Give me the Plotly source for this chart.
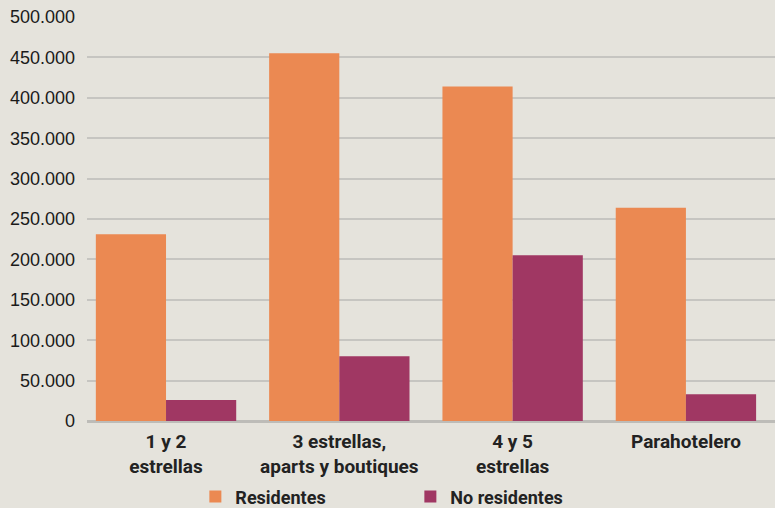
import plotly.graph_objects as go

categories = ["1 y 2<br>estrellas", "3 estrellas,<br>aparts y boutiques", "4 y 5<br>estrellas", "Parahotelero"]
residentes = [231000, 455000, 414000, 264000]
no_residentes = [26000, 80000, 205000, 33000]
y_ticks = [0, 50000, 100000, 150000, 200000, 250000, 300000, 350000, 400000, 450000, 500000]
y_labels = ["0", "50.000", "100.000", "150.000", "200.000", "250.000", "300.000", "350.000", "400.000", "450.000", "500.000"]

BG = "#e5e3dc"
COND = "Roboto, Liberation Sans, Arial, sans-serif"
fig = go.Figure()
fig.add_trace(go.Bar(x=categories, y=residentes, name="Residentes", marker=dict(color="#eb8952", line=dict(width=0))))
fig.add_trace(go.Bar(x=categories, y=no_residentes, name="No residentes", marker=dict(color="#a03763", line=dict(width=0))))

W, H = 775, 508
ml, mr, mt, mb = 87, 0, 17, 87
fig.update_layout(
    width=W, height=H,
    margin=dict(l=ml, r=mr, t=mt, b=mb, pad=0, autoexpand=False),
    paper_bgcolor=BG, plot_bgcolor=BG,
    barmode="group", bargap=0.19, bargroupgap=0,
    showlegend=True,
    legend=dict(orientation="h", x=0.47, xanchor="center", yref="container", y=0.022, yanchor="middle",
                font=dict(family=COND, size=18, color="#222222", weight="bold"),
                entrywidth=170, bgcolor="rgba(0,0,0,0)", traceorder="normal"),
    xaxis=dict(range=[-0.456, 3.514], showgrid=False, zeroline=False, showline=False,
               ticks="", ticklabelstandoff=7, automargin=False,
               tickfont=dict(family=COND, size=19, color="#222222", weight="bold")),
    yaxis=dict(range=[0, 500000], tickvals=y_ticks, ticktext=y_labels,
               showgrid=True, gridcolor="#c6c5c1", gridwidth=2,
               zeroline=True, zerolinecolor="#bdbcb8", zerolinewidth=3,
               showline=False, ticks="", ticklabelstandoff=11, automargin=False,
               tickfont=dict(family="Liberation Sans, Arial, sans-serif", size=18, color="#1a1a1a")),
)
fig.write_html("out.html", config={"displayModeBar": False},
               post_script="document.body.style.margin='0';document.body.style.background='%s';" % BG)
